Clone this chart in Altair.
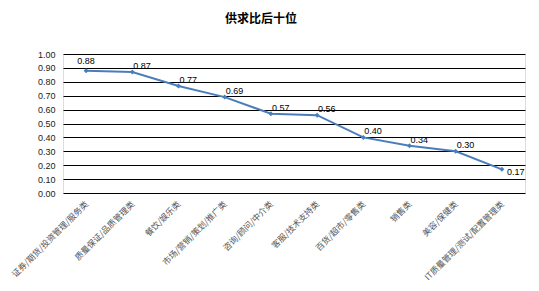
import altair as alt
import pandas as pd

categories = ["证券/期货/投资管理/服务类", "质量保证/品质管理类", "餐饮/娱乐类", "市场/营销/策划/推广类",
              "咨询/顾问/中介类", "客服/技术支持类", "百货/超市/零售类", "销售类", "美容/保健类",
              "IT质量管理/测试/配置管理类"]
values = [0.88, 0.87, 0.77, 0.69, 0.57, 0.56, 0.40, 0.34, 0.30, 0.17]

df = pd.DataFrame({"cat": categories, "val": values, "idx": list(range(len(values)))})
last = len(values) - 1

x = alt.X("cat:N", sort=categories, title=None,
          scale=alt.Scale(type="point", padding=0.5),
          axis=alt.Axis(labelAngle=-45, labelAlign="right", labelBaseline="middle",
                        labelFont="Noto Sans CJK SC", labelFontSize=8.5, labelColor="#555555",
                        labelPadding=9, ticks=False, domain=False, grid=False, labelLimit=200))
y = alt.Y("val:Q", title=None,
          scale=alt.Scale(domain=[0, 1], nice=False, zero=True),
          axis=alt.Axis(values=[i / 10 for i in range(11)], format=".2f", ticks=False, domain=False,
                        grid=True, gridColor="#000000", gridWidth=1, labelFont="Liberation Sans",
                        labelFontSize=9, labelColor="#222222", labelPadding=8))

base = alt.Chart(df)
line = base.mark_line(color="#4A7EBB", strokeWidth=2).encode(x=x, y=y)
pts = base.mark_point(shape="diamond", filled=True, size=25, color="#4A7EBB", opacity=1).encode(x=x, y=y)
labels = base.transform_filter(f"datum.idx > 0 && datum.idx < {last}").mark_text(
    align="left", baseline="bottom", dx=1, dy=-1, font="Liberation Sans", fontSize=9, color="#000000"
).encode(x=x, y=y, text=alt.Text("val:Q", format=".2f"))
label0 = base.transform_filter("datum.idx == 0").mark_text(
    align="center", baseline="bottom", dy=-5, font="Liberation Sans", fontSize=9, color="#000000"
).encode(x=x, y=y, text=alt.Text("val:Q", format=".2f"))
labelN = base.transform_filter(f"datum.idx == {last}").mark_text(
    align="left", baseline="middle", dx=5, dy=3, font="Liberation Sans", fontSize=9, color="#000000"
).encode(x=x, y=y, text=alt.Text("val:Q", format=".2f"))

chart = alt.layer(line, pts, labels, label0, labelN).properties(
    width=462, height=139,
    autosize=alt.AutoSizeParams(type="none"),
    padding={"left": 63, "top": 54, "right": 14, "bottom": 98},
    title=alt.TitleParams("供求比后十位", font="Noto Sans CJK SC", fontSize=12, fontWeight="bold",
                          anchor="middle", offset=24, dx=-33, color="#000000"),
).configure_view(stroke=None).configure(background="white")

chart.save("out.html", embed_options={"renderer": "svg", "actions": False})
